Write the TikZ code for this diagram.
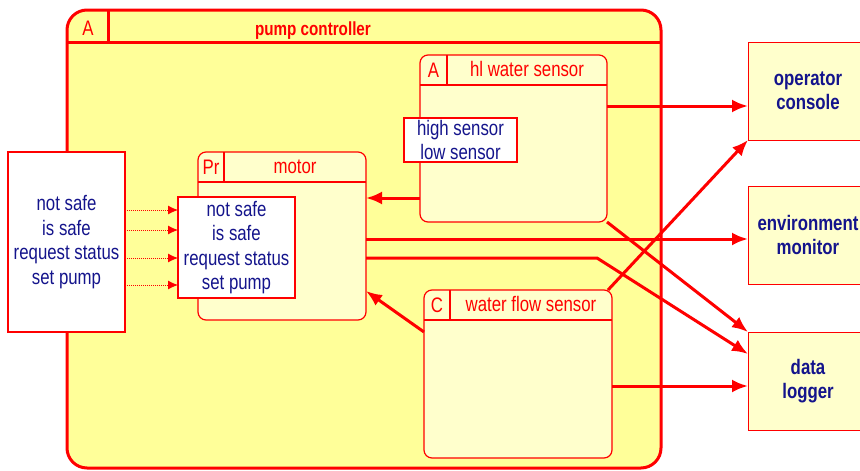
\documentclass[tikz,border=0pt]{standalone}
\usepackage{fontspec}
\setmainfont{Liberation Sans}[FakeStretch=0.8]
\usepackage{tikz}
\usetikzlibrary{arrows.meta,calc}
\definecolor{pcyellow}{HTML}{FFFF99}
\definecolor{lightbox}{HTML}{FFFFCC}
\definecolor{txtblue}{HTML}{14148C}
\newcommand{\lbl}{\fontsize{21}{24.5}\selectfont}

\begin{document}
\begin{tikzpicture}[x=1pt,y=-1pt,>={Latex[length=16pt,width=13pt]},
  every node/.style={inner sep=0pt,outer sep=0pt,font=\lbl},
  box/.style={draw=red,anchor=north west},
  statebox/.style={box,fill=lightbox,line width=1.2pt,rounded corners=8pt},
  sigbox/.style={box,fill=white,line width=1.2pt,text=txtblue,align=center},
  extbox/.style={box,fill=lightbox,line width=1pt,text=txtblue,font=\lbl\bfseries,align=center},
  flow/.style={draw=red,line width=3pt,->},
  sig/.style={draw=red,line width=0.8pt,dash pattern=on 1pt off 1pt,-{Latex[length=10pt,width=9pt]}}]
\useasboundingbox (0,0) rectangle (860,471);
% pump controller
\node[box,fill=pcyellow,line width=3pt,rounded corners=20pt,minimum width=594pt,minimum height=458pt] (pc) at (67,10) {};
\draw[red,line width=3pt] ($(pc.north west)+(0,32)$) -- ($(pc.north east)+(0,32)$);
\draw[red,line width=3pt] ($(pc.north west)+(41,0)$) -- ($(pc.north west)+(41,32)$);
\node[text=red,anchor=base] (pctag) at (88,35) {A};
\node[text=red,anchor=base,font=\fontsize{19}{20}\selectfont\bfseries] (pctitle) at (313,35) {pump controller};
% state boxes
\foreach \n/\x/\y/\w/\h/\tg/\tw/\lab in {mo/198/152/168/168/Pr/26/motor,
    hl/420/55/187/167/A/27/hl water sensor,wf/424/290/188/168/C/26/water flow sensor}{
  \node[statebox,minimum width=\w pt,minimum height=\h pt] (\n) at (\x,\y) {};
  \draw[red,line width=1.2pt] ($(\n.north west)+(0,30)$) -- ($(\n.north east)+(0,30)$);
  \draw[red,line width=1.2pt] ($(\n.north west)+(\tw,0)$) -- ($(\n.north west)+(\tw,30)$);
  \node[text=red,anchor=base] (\n tag) at ($(\n.north west)+({\tw/2},22)$) {\tg};
  \node[text=red,anchor=base] (\n title) at ($(\n.north west)+({(\tw+\w)/2},21)$) {\lab};
}
% signal boxes
\node[sigbox,minimum width=117pt,minimum height=180pt] (src) at (8,152)
  {not safe\\is safe\\request status\\set pump};
\node[sigbox,minimum width=117pt,minimum height=101pt] (msig) at (178,197)
  {not safe\\is safe\\request status\\set pump};
\node[sigbox,minimum width=113pt,minimum height=44pt] (hsig) at (404,118)
  {high sensor\\low sensor};
% external boxes
\node[extbox,minimum width=120pt,minimum height=98pt] (oc) at (748,42) {operator\\console};
\node[extbox,minimum width=120pt,minimum height=98pt] (em) at (748,186) {environment\\monitor};
\node[extbox,minimum width=120pt,minimum height=98pt] (dl) at (748,332) {data\\logger};
% dotted signals
\foreach \yy in {210,230,258,285}{
  \draw[sig] (src.east |- 0,\yy) -- (msig.west |- 0,\yy);
}
% flows
\coordinate (bend) at (597,258);
\draw[flow] (hl.west |- 0,198) -- (mo.east |- 0,198);
\draw[flow] (wf.west |- 0,332) -- (mo.east |- 0,291);
\draw[flow] (hl.east |- 0,106) -- (oc.west |- 0,106);
\draw[flow] (mo.east |- 0,239) -- (em.west |- 0,239);
\draw[flow] (mo.east |- 0,258) -- (bend) -- (dl.west |- 0,354);
\draw[flow] (hl.south east) -- (dl.north west);
\draw[flow] ($(wf.north east)+(-4,0)$) -- (oc.south west);
\draw[flow] (wf.east |- 0,386) -- (dl.west |- 0,386);
\end{tikzpicture}
\end{document}
